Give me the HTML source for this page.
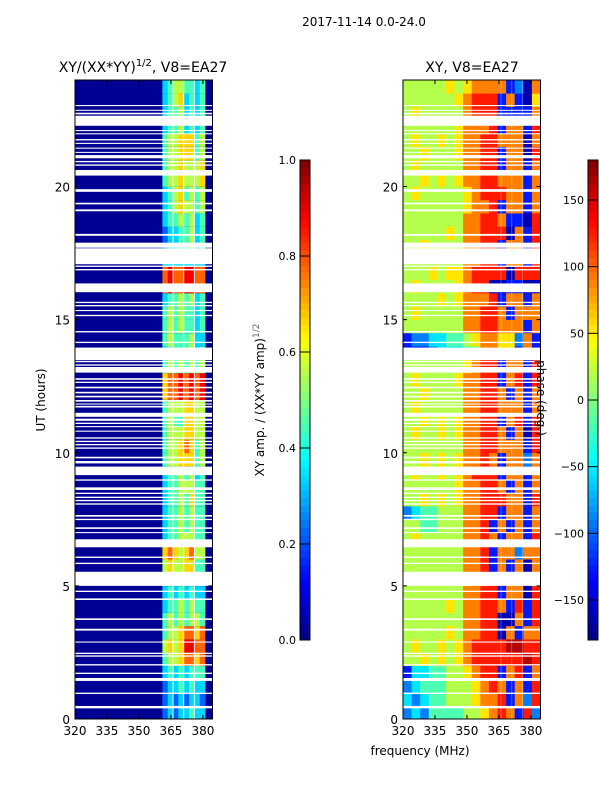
<!DOCTYPE html>
<html><head><meta charset="utf-8"><style>
body{margin:0;background:#fff;}
svg{display:block;font-family:"DejaVu Sans","Liberation Sans",sans-serif;}
</style></head><body>
<svg id="fig" width="600" height="800" viewBox="0 0 600 800">
<text x="364" y="26" font-size="12" text-anchor="middle">2017-11-14 0.0-24.0</text>
<text x="143" y="72" font-size="14" text-anchor="middle">XY/(XX*YY)<tspan font-size="10" dy="-6">1/2</tspan><tspan dy="6">, V8=EA27</tspan></text>
<text x="472" y="72" font-size="14" text-anchor="middle">XY, V8=EA27</text>
<text transform="translate(45,400) rotate(-90)" font-size="12" text-anchor="middle">UT (hours)</text>
<text x="420" y="755" font-size="12" text-anchor="middle">frequency (MHz)</text>
<text transform="translate(264,400) rotate(-90)" font-size="12" text-anchor="middle">XY amp. / (XX*YY amp)<tspan font-size="9" dy="-5" fill="#666">1/2</tspan></text>
<g id="layer"></g>
<text transform="translate(537,398) rotate(90)" font-size="12" text-anchor="middle">phase (deg.)</text>
</svg>
<script>
const NS="http://www.w3.org/2000/svg";
const binHours=0.5;
const ampRows=["23233433","23232332","23343433","34343444","45567767","56568877","45567767","45454554","34454544","34343433","33333333","56556644","67656755","34455544","34454544","34454544","34454644","34455544","34454534","45566645","45567645","45556655","45446655","45556655","67787878","67787878","45454545","34444534","45444533","45454434","45454434","34454534","78778877","78778877","33333333","23344534","23344534","34454534","34565545","34564545","45565556","45565556","45566645","45566645","34453434","34453434","34563434","34554434"];
const phaseRows=["2324444556787182","3234455567781728","2344455567871718","1334455678817817","5565656788888898","5655656788889988","5555565778807177","5555555778800718","5555565778871818","5555555778817708","5555555677817717","5555555778171707","5555555778177277","5655555778717718","5544555778171717","2344555778817717","5565656778887718","5555556778871717","5655656788817717","5565656778717727","5555555778877718","5655656778871708","5565656778817818","5655555778877717","5565555778871717","5655556778817818","5555555678817718","1112333447766171","1223344567766271","5555555778877717","5655555778871777","5555656777817717","5655556788001100","5556566788880888","5555555778817718","5565555778817718","5555565778880718","5555555778871108","5555555677817717","5655555678887717","5565656778877717","5655555778817717","5565556778817708","5655656778877707","5555556777817718","5655555788811117","5555556788817106","5555565677771207"];
const gaps=[[0.4,0.49],[0.94,0.99],[1.43,1.54],[1.69,1.74],[2.01,2.06],[2.34,2.39],[2.44,2.49],[2.87,2.91],[3.32,3.39],[3.72,3.78],[4.47,4.53],[4.77,4.82],[5.0,5.53],[5.82,5.87],[6.05,6.1],[6.45,6.75],[6.98,7.02],[7.14,7.2],[7.47,7.52],[7.6,7.66],[8.05,8.1],[8.18,8.23],[8.3,8.35],[8.45,8.5],[8.6,8.7],[8.95,9.0],[9.16,9.48],[9.6,9.69],[9.79,9.85],[10.15,10.2],[10.28,10.33],[10.4,10.45],[10.53,10.58],[10.79,10.83],[10.96,11.0],[11.08,11.13],[11.2,11.28],[11.35,11.5],[11.7,11.76],[11.81,11.85],[11.92,11.98],[12.08,12.14],[12.23,12.29],[12.42,12.48],[12.62,12.67],[12.74,12.8],[13.01,13.22],[13.27,13.32],[13.4,13.45],[13.48,13.95],[14.12,14.17],[14.52,14.57],[15.13,15.18],[15.32,15.36],[15.5,15.55],[15.62,15.67],[16.03,16.36],[16.85,16.9],[16.98,17.03],[17.08,17.68],[17.7,17.89],[18.15,18.22],[19.07,19.14],[19.33,19.39],[19.8,19.9],[20.41,20.62],[20.78,20.83],[20.91,20.96],[21.06,21.18],[21.27,21.3],[21.42,21.46],[21.6,21.64],[21.73,21.78],[21.96,22.0],[22.08,22.12],[22.28,22.66],[22.71,22.77],[22.85,22.88],[23.02,23.06]];
const freqTicks=[320,335,350,365,380];
const hourTicks=[0,5,10,15,20];
const ampTicks=[0,0.2,0.4,0.6,0.8,1.0];
const ampTickLabels=["0.0","0.2","0.4","0.6","0.8","1.0"];
const phaseTicks=[-150,-100,-50,0,50,100,150];
const subbandEdges=[361,366,371,376,381];
const fMin=320,fMax=384.5,hMin=0,hMax=24;
const ampBase=0.02;

const L=document.getElementById('layer');
function mk(tag,attrs,parent){const e=document.createElementNS(NS,tag);for(const k in attrs)e.setAttribute(k,attrs[k]);(parent||L).appendChild(e);return e;}
function jet(v){v=Math.max(0,Math.min(1,v));const c=x=>Math.round(255*Math.max(0,Math.min(1,1.5-Math.abs(x))));return `rgb(${c(4*v-3)},${c(4*v-2)},${c(4*v-1)})`;}
const panels=[{x0:75,x1:212.5,name:'amp'},{x0:403,x1:540.5,name:'phase'}];
const yTop=80,yBot=719;
function yS(h){return yBot-(h-hMin)/(hMax-hMin)*(yBot-yTop);}

panels.forEach(p=>{
  const xS=f=>p.x0+(f-fMin)/(fMax-fMin)*(p.x1-p.x0);
  const g=mk('g',{});
  
  
  for(let r=0;r<48;r++){
    const h0=r*binHours,h1=h0+binHours;
    const ya=yS(h1),yb=yS(h0);
    if(p.name==='amp'){
      let rc=mk('rect',{x:xS(fMin),y:ya,width:xS(fMax)-xS(fMin),height:yb-ya+0.3,fill:jet(ampBase)},g);
      
      
      const s=ampRows[r];const w=(subbandEdges[4]-subbandEdges[0])/s.length;
      for(let c=0;c<s.length;c++){
        const f0=subbandEdges[0]+c*w;
        const cell=mk('rect',{x:xS(f0),y:ya,width:xS(f0+w)-xS(f0)+0.3,height:yb-ya+0.3,fill:jet(+s[c]/9)},g);
        
        
      }
    }else{
      const s=phaseRows[r];const w=(fMax-fMin)/s.length;
      for(let c=0;c<s.length;c++){
        const f0=fMin+c*w;const ph=-180+(+s[c]+0.5)*36;
        const cell=mk('rect',{x:xS(f0),y:ya,width:xS(f0+w)-xS(f0)+0.3,height:yb-ya+0.3,fill:jet((ph+180)/360)},g);
        
        
      }
    }
  }
  subbandEdges.slice(1,4).forEach(f=>{
    const ln=mk('line',{x1:xS(f),x2:xS(f),y1:yTop,y2:yBot,stroke:'#fff','stroke-width':1,opacity:p.name==='amp'?0.9:0.3},g);
    
    
  });
  gaps.forEach(gp=>{
    const ya=yS(gp[1]),yb=yS(gp[0]);
    const gr=mk('rect',{x:p.x0,y:ya,width:p.x1-p.x0,height:Math.max(1,yb-ya),fill:'#fff'},g);
    
    
  });
  const fr=mk('rect',{x:p.x0,y:yTop,width:p.x1-p.x0,height:yBot-yTop,fill:'none',stroke:'#000','stroke-width':1});
  
  
  freqTicks.forEach(f=>{
    const x=xS(f);
    mk('line',{x1:x,x2:x,y1:yBot,y2:yBot-4,stroke:'#000'});
    mk('line',{x1:x,x2:x,y1:yTop,y2:yTop+4,stroke:'#000'});
    const t=mk('text',{x:x,y:yBot+16,'font-size':12,'text-anchor':'middle'});
    t.textContent=f;
    
    
  });
  hourTicks.forEach(h=>{
    const y=yS(h);
    mk('line',{x1:p.x0,x2:p.x0+4,y1:y,y2:y,stroke:'#000'});
    mk('line',{x1:p.x1,x2:p.x1-4,y1:y,y2:y,stroke:'#000'});
    const t=mk('text',{x:p.x0-5,y:y+5,'font-size':12,'text-anchor':'end'});
    t.textContent=h;
    
    
  });
});

function colorbar(x,name,vmin,vmax,ticks,labels){
  const y0=160,y1=640,w=10;
  const g=mk('g',{});
  
  
  const n=64;
  for(let i=0;i<n;i++){
    const ya=y1-(i+1)*(y1-y0)/n;
    mk('rect',{x:x,y:ya,width:w,height:(y1-y0)/n+0.4,fill:jet((i+0.5)/n)},g);
  }
  mk('rect',{x:x,y:y0,width:w,height:y1-y0,fill:'none',stroke:'#000','stroke-width':1},g);
  ticks.forEach((v,i)=>{
    const y=y1-(v-vmin)/(vmax-vmin)*(y1-y0);
    mk('line',{x1:x,x2:x+w,y1:y,y2:y,stroke:'#000'},g);
    const t=mk('text',{x:x-4,y:y+4,'font-size':11,'text-anchor':'end'},g);
    t.textContent=labels[i];
    
    
  });
}
colorbar(300,'amp-colorbar',0,1,ampTicks,ampTickLabels);
colorbar(588,'phase-colorbar',-180,180,phaseTicks,phaseTicks.map(v=>v<0?'\u2212'+(-v):String(v)));
</script>
</body></html>
